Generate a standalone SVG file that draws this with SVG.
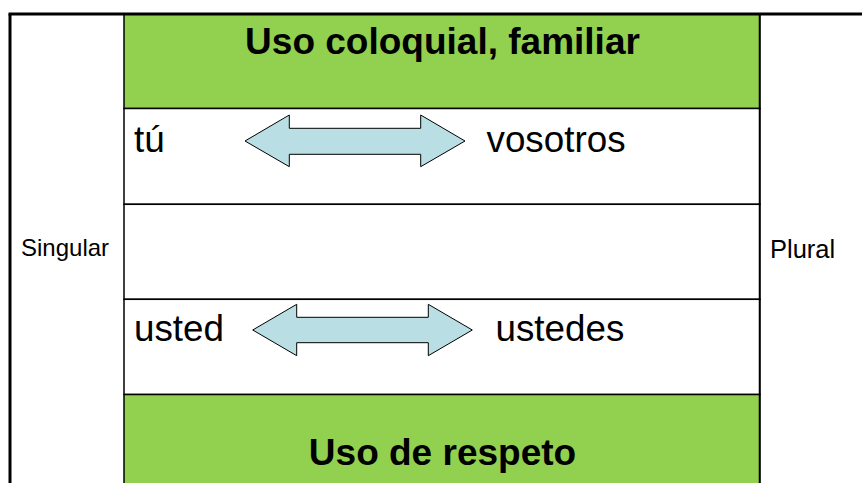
<svg xmlns="http://www.w3.org/2000/svg" width="862" height="483" viewBox="0 0 862 483">
<defs>
<style>
.cell{stroke:#000;stroke-width:1.5}
.green{fill:#92D050}
.white{fill:#fff}
.title{font-family:"Liberation Sans",Arial,sans-serif;font-weight:bold;font-size:37px;fill:#000;text-anchor:middle}
.word{font-family:"Liberation Sans",Arial,sans-serif;font-size:36.8px;fill:#000}
.side{font-family:"Liberation Sans",Arial,sans-serif;font-size:24px;fill:#000}
.arrow{fill:#B9DFE4;stroke:#000;stroke-width:1}
.border{stroke:#000;stroke-width:3;fill:none}
.thin{stroke:#000;stroke-width:1.5;fill:none}
</style>
</defs>
<rect width="862" height="483" fill="#fff"/>
<g id="row-coloquial">
<rect class="cell green" x="124" y="14" width="636" height="94.5"/>
<text class="title" x="442.5" y="53.5">Uso coloquial, familiar</text>
</g>
<g id="row-tu">
<rect class="cell white" x="124" y="108.5" width="636" height="95.8"/>
<text class="word" x="134" y="152">tú</text>
<text class="word" x="486.5" y="152">vosotros</text>
</g>
<g id="row-empty">
<rect class="cell white" x="124" y="204.3" width="636" height="95"/>
</g>
<g id="row-usted">
<rect class="cell white" x="124" y="299.3" width="636" height="95.2"/>
<text class="word" x="134" y="341">usted</text>
<text class="word" x="495.5" y="341">ustedes</text>
</g>
<g id="row-respeto">
<rect class="cell green" x="124" y="394.5" width="636" height="95"/>
<text class="title" x="442.5" y="465">Uso de respeto</text>
</g>
<g id="col-singular">
<text class="side" x="21" y="255.5">Singular</text>
</g>
<g id="col-plural">
<text class="side" x="770" y="258" style="font-size:25.5px">Plural</text>
</g>
<g id="connectors">
<polygon class="arrow" points="245,141 289.3,115 289.3,128.3 420.7,128.3 420.7,115 465,141 420.7,166.7 420.7,154.3 289.3,154.3 289.3,166.7"/>
<polygon class="arrow" points="252.7,330 296.7,304.3 296.7,317.3 428.3,317.3 428.3,304.3 472.3,330 428.3,355.7 428.3,342.7 296.7,342.7 296.7,355.7"/>
</g>
<g id="frame">
<line class="border" x1="8.5" y1="14" x2="862" y2="14"/>
<line class="border" x1="10" y1="14" x2="10" y2="483"/>
<line class="thin" x1="759.5" y1="14" x2="759.5" y2="483"/>
</g>
</svg>
